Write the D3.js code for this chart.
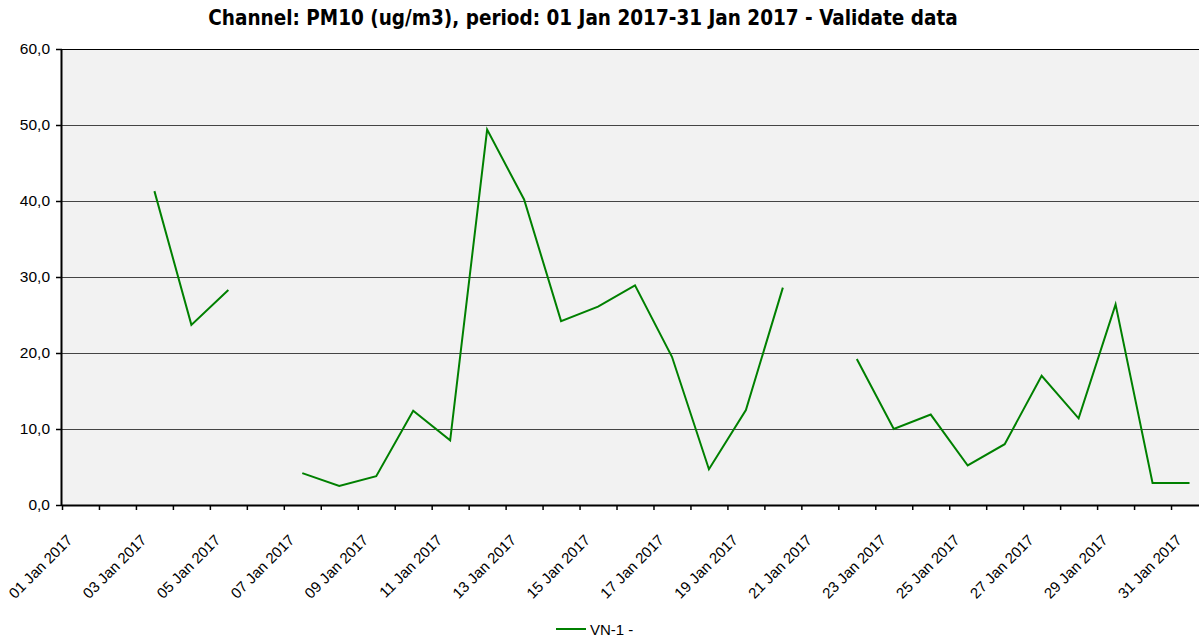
<!DOCTYPE html>
<html>
<head>
<meta charset="utf-8">
<script src="https://cdn.jsdelivr.net/npm/d3@7"></script>
<style>
  body { margin: 0; background: #fff; }
</style>
</head>
<body>
<div class="canvas"></div>
<script>
// daily values, day of month -> PM10 (null = no data)
const days = [1, 2, 3, 4, 5, 6, 7, 8, 9, 10, 11, 12, 13, 14, 15, 16,
    17, 18, 19, 20, 21, 22, 23, 24, 25, 26, 27, 28, 29, 30, 31];
const pm10 = [null, null, 41.3, 23.7, 28.3, null, 4.2, 2.5, 3.8, 12.4, 8.5, 49.4, 40.2, 24.2, 26.1, 28.9,
    19.5, 4.7, 12.5, 28.6, null, 19.2, 10.0, 11.9, 5.2, 8.0, 17.0, 11.4, 26.4, 2.9, 2.9];
const yTicks = [0, 10, 20, 30, 40, 50, 60];
const seriesName = 'VN-1 -';
const title = 'Channel: PM10 (ug/m3), period: 01 Jan 2017-31 Jan 2017 - Validate data';

const width = 1199, height = 639;
const margins = { top: 49, left: 62, bottom: 134 };
const graphWidth = 1146;
const graphHeight = height - margins.top - margins.bottom;
const sans = '"Liberation Sans", Arial, sans-serif';

const svg = d3.select('.canvas')
    .append('svg')
    .attr('width', width)
    .attr('height', height)
    .style('font-family', sans);

const graph = svg.append('g')
    .attr('transform', `translate(${margins.left}, ${margins.top})`);

const x = d3.scaleTime()
    .domain([new Date(2017, 0, 1), new Date(2017, 1, 1)])
    .range([0, graphWidth]);

const y = d3.scaleLinear()
    .domain([0, 60])
    .range([graphHeight, 0]);

// plot background
graph.append('rect')
    .attr('width', graphWidth)
    .attr('height', graphHeight)
    .attr('fill', '#f2f2f2');

// grid lines
graph.selectAll('line.grid')
    .data(yTicks.slice(1))
    .enter()
    .append('line')
    .attr('class', 'grid')
    .attr('x1', 0)
    .attr('x2', graphWidth)
    .attr('y1', d => y(d) + 0.5)
    .attr('y2', d => y(d) + 0.5)
    .attr('stroke', d => d === 60 ? '#000' : '#444')
    .attr('stroke-width', 1);

// data at noon each day
const data = days.map((d, i) => ({ date: new Date(2017, 0, d, 12), value: pm10[i] }));

const line = d3.line()
    .defined(d => d.value !== null)
    .x(d => x(d.date))
    .y(d => y(d.value));

graph.append('path')
    .datum(data)
    .attr('fill', 'none')
    .attr('stroke', '#008000')
    .attr('stroke-width', 2)
    .attr('d', line);

// axes
const xAxis = d3.axisBottom(x)
    .tickValues(days.map(d => new Date(2017, 0, d)))
    .tickSize(5)
    .tickFormat(d => d.getDate() % 2 === 1 ? d3.timeFormat('%d %b %Y')(d) : '');

const yAxis = d3.axisLeft(y)
    .tickValues(yTicks)
    .tickSize(6)
    .tickFormat(d => d3.format('.1f')(d).replace('.', ','));

const xAxisGroup = graph.append('g')
    .attr('transform', `translate(0, ${graphHeight})`)
    .call(xAxis);
const yAxisGroup = graph.append('g').call(yAxis);

[xAxisGroup, yAxisGroup].forEach(g => {
    g.select('.domain').attr('stroke', '#000').attr('stroke-width', 2);
    g.selectAll('.tick line').attr('stroke', '#000').attr('stroke-width', 1.5);
    g.attr('font-family', sans);
});
xAxisGroup.select('.domain').attr('d', `M0,0.5H${graphWidth}`);
yAxisGroup.select('.domain').attr('d', `M-0.5,0V${graphHeight}`);

xAxisGroup.selectAll('text')
    .attr('font-size', 15)
    .attr('fill', '#000')
    .attr('y', 0)
    .attr('dy', 0)
    .attr('text-anchor', 'end')
    .attr('transform', 'translate(11, 36) rotate(-45)');

yAxisGroup.selectAll('text')
    .attr('font-size', 15.5)
    .attr('fill', '#000')
    .attr('x', -12);

// title
const titleText = svg.append('text')
    .attr('x', 583)
    .attr('y', 25)
    .attr('text-anchor', 'middle')
    .style('font-family', '"DejaVu Sans Condensed", "DejaVu Sans", sans-serif')
    .style('font-weight', 'bold')
    .style('font-size', '18px')
    .text(title);
// fit the title to the reference width
const tw = titleText.node().getComputedTextLength();
titleText.style('font-size', (18 * 750 / tw) + 'px');

// legend
const legend = svg.append('g').attr('transform', 'translate(556, 629)');
legend.append('line')
    .attr('x1', 0).attr('x2', 30)
    .attr('stroke', '#008000')
    .attr('stroke-width', 2);
legend.append('text')
    .attr('x', 34)
    .attr('y', 5.5)
    .attr('font-size', 15)
    .text(seriesName);
</script>
</body>
</html>
